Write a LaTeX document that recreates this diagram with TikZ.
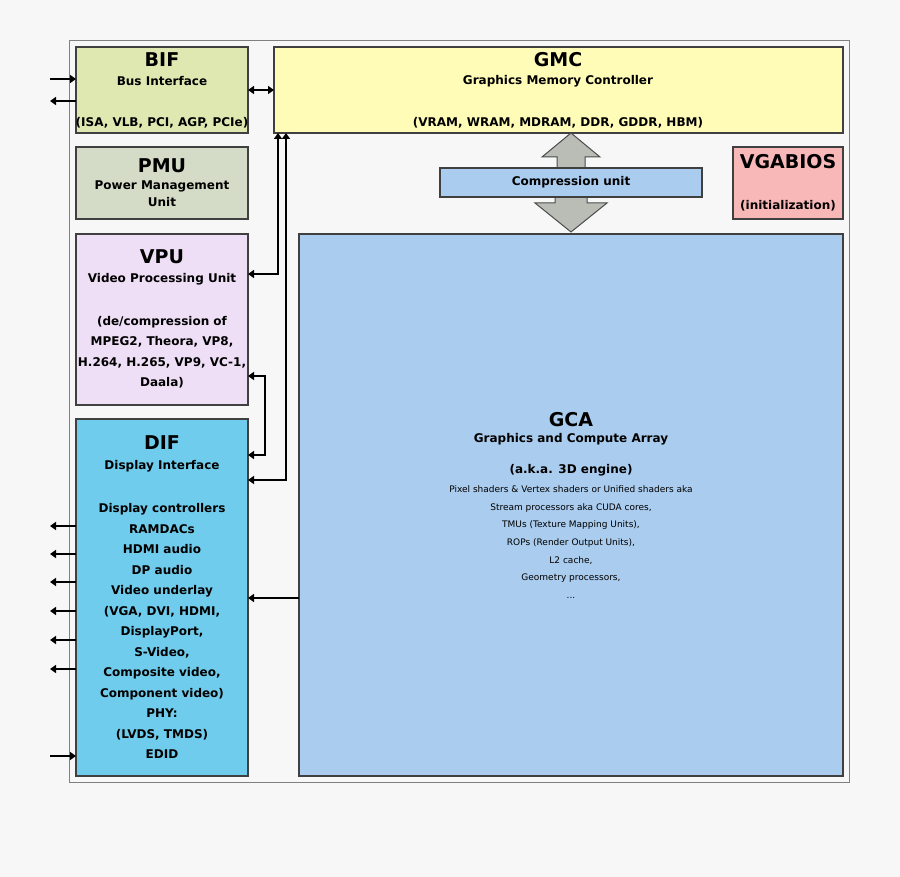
\documentclass[tikz,border=0pt]{standalone}
\usepackage{fontspec}
\setmainfont{DejaVu Sans}
\usetikzlibrary{arrows.meta}
\begin{document}
\begin{tikzpicture}[x=1pt,y=-1pt,
  box/.style={draw=black!75,line width=1.2pt},
  t/.style={font=\fontsize{19}{22}\selectfont\bfseries,inner sep=0},
  s/.style={font=\fontsize{12}{14}\selectfont\bfseries,inner sep=0},
  m/.style={font=\fontsize{12}{20.5}\selectfont\bfseries,inner sep=0,align=center},
  f/.style={font=\fontsize{9}{17.6}\selectfont,inner sep=0,align=center},
  ar/.style={line width=2pt,-{Triangle[length=6pt,width=8pt]}},
  ln/.style={line width=2pt},
  lnA/.style={line width=2pt,-{Triangle[length=6pt,width=8pt]}},
  lnB/.style={line width=2pt,{Triangle[length=6pt,width=8pt]}-{Triangle[length=6pt,width=8pt]}}]
\fill[black!3] (0,0) rectangle (900,877);
\useasboundingbox (0,0) rectangle (900,877);
\draw[black!50,line width=1pt] (69,41) rectangle (849,782);
% boxes
\draw[box,fill={rgb,255:red,222;green,232;blue,176}] (76,47) rectangle (248,133);
\coordinate (bifN) at (162,47);
\node[t] (bift) at (162,60) {BIF};
\node[s] (bifs) at (162,81) {Bus Interface};
\node[s] (bifb) at (162,123) {(ISA, VLB, PCI, AGP, PCIe)};
\draw[box,fill={rgb,255:red,212;green,219;blue,199}] (76,147) rectangle (248,219);
\node[t] (pmut) at (162,166) {PMU};
\node[s,align=center,font=\fontsize{12}{17}\selectfont\bfseries] (pmus) at (162,194) {Power Management\\Unit};
\draw[box,fill={rgb,255:red,238;green,222;blue,246}] (76,234) rectangle (248,405);
\node[t] (vput) at (162,257) {VPU};
\node[s] (vpus) at (162,279) {Video Processing Unit};
\node[m] (vpub) at (162,352) {(de/compression of\\MPEG2, Theora, VP8,\\H.264, H.265, VP9, VC-1,\\Daala)};
\draw[box,fill={rgb,255:red,112;green,204;blue,236}] (76,419) rectangle (248,776);
\node[t] (dift) at (162,443) {DIF};
\node[s] (difs) at (162,466) {Display Interface};
\node[m] (difb) at (162,631) {Display controllers\\RAMDACs\\HDMI audio\\DP audio\\Video underlay\\(VGA, DVI, HDMI,\\DisplayPort,\\S-Video,\\Composite video,\\Component video)\\PHY:\\(LVDS, TMDS)\\EDID};
\draw[box,fill={rgb,255:red,255;green,252;blue,184}] (274,47) rectangle (843,133);
\node[t] (gmct) at (558,60) {GMC};
\node[s] (gmcs) at (558,81) {Graphics Memory Controller};
\node[s] (gmcb) at (558,123) {(VRAM, WRAM, MDRAM, DDR, GDDR, HBM)};
\draw[box,fill={rgb,255:red,249;green,184;blue,184}] (733,147) rectangle (843,219);
\node[t] (vgat) at (788,162) {VGABIOS};
\node[s] (vgab) at (788,206) {(initialization)};
\draw[box,fill={rgb,255:red,170;green,204;blue,238}] (299,234) rectangle (843,776);
\node[t] (gcat) at (571,420) {GCA};
\node[s] (gcas) at (571,439) {Graphics and Compute Array};
\node[s] (gcab) at (571,470) {(a.k.a. 3D engine)};
\node[f] (gcaf) at (571,542) {Pixel shaders \& Vertex shaders or Unified shaders aka\\Stream processors aka CUDA cores,\\TMUs (Texture Mapping Units),\\ROPs (Render Output Units),\\L2 cache,\\Geometry processors,\\...};
% big arrow
\draw[black!70,line width=1pt,fill={rgb,255:red,186;green,189;blue,182}]
  (571,133) -- (600,157) -- (585,157) -- (585,168) -- (557,168) -- (557,157) -- (542,157) -- cycle;
\draw[black!70,line width=1pt,fill={rgb,255:red,186;green,189;blue,182}]
  (571,232) -- (607,203) -- (587,203) -- (587,197) -- (555,197) -- (555,203) -- (535,203) -- cycle;
\draw[box,fill={rgb,255:red,170;green,204;blue,238}] (440,168) rectangle (702,197);
\node[s] (comp) at (571,182) {Compression unit};
% connectors
\coordinate (bifR) at (248,90); \coordinate (gmcL) at (274,90);
\draw[lnB] (bifR) -- (gmcL);
\coordinate (g1) at (278,133); \coordinate (v1) at (248,274);
\draw[lnB] (g1) |- (v1);
\coordinate (g2) at (286,133); \coordinate (d1) at (248,480);
\draw[lnB] (g2) |- (d1);
\coordinate (v2) at (248,376); \coordinate (d2) at (248,455);
\draw[lnB] (v2) -- (265,376) -- (265,455) -- (d2);
\coordinate (gcaL) at (299,598); \coordinate (difR) at (248,598);
\draw[lnA] (gcaL) -- (difR);
% external
\coordinate (e1) at (50,79); \coordinate (b1) at (76,79);
\draw[ar] (e1) -- (b1);
\coordinate (e2) at (50,101); \coordinate (b2) at (76,101);
\draw[ar] (b2) -- (e2);
\foreach \yy in {526,554,582,611,640,669} {
  \coordinate (ex) at (50,\yy); \coordinate (dx) at (76,\yy);
  \draw[ar] (dx) -- (ex);}
\coordinate (e3) at (50,756); \coordinate (d3) at (76,756);
\draw[ar] (e3) -- (d3);
\end{tikzpicture}
\end{document}
